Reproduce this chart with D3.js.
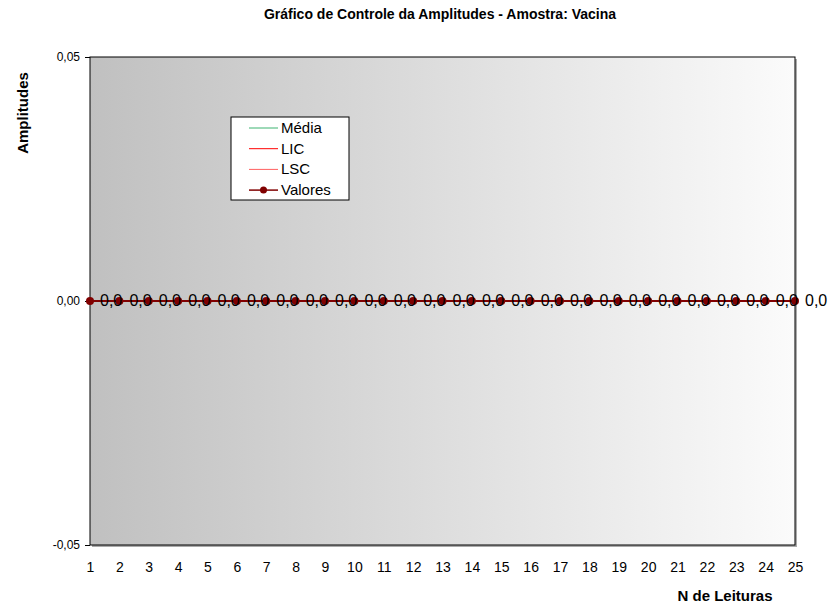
<!DOCTYPE html>
<html><head><meta charset="utf-8">
<script src="https://cdn.jsdelivr.net/npm/d3@7"></script>
<style>body{margin:0;background:#fff}svg{display:block;font-family:"Liberation Sans",Arial,sans-serif}</style>
</head><body><svg id="c" width="830" height="609"></svg>
<script>
const leituras = d3.range(1, 26);
const valores = [0,0,0,0,0,0,0,0,0,0,0,0,0,0,0,0,0,0,0,0,0,0,0,0,0];
const media = [0,0,0,0,0,0,0,0,0,0,0,0,0,0,0,0,0,0,0,0,0,0,0,0,0];
const lic = [0,0,0,0,0,0,0,0,0,0,0,0,0,0,0,0,0,0,0,0,0,0,0,0,0];
const lsc = [0,0,0,0,0,0,0,0,0,0,0,0,0,0,0,0,0,0,0,0,0,0,0,0,0];
const yTicks = [-0.05, 0, 0.05];
const legendItems = ["Média", "LIC", "LSC", "Valores"];

const svg = d3.select("#c");
const L = 90, R = 795, T = 57, B = 545;
const x = d3.scaleLinear().domain([1, 25]).range([L, R]);
const y = d3.scaleLinear().domain([-0.05, 0.05]).range([B, T]);
const fmt = v => d3.format(".2f")(v).replace(".", ",").replace("−", "-");

const defs = svg.append("defs");
const g = defs.append("linearGradient").attr("id", "bg");
g.append("stop").attr("offset", "0%").attr("stop-color", "#c0c0c0");
g.append("stop").attr("offset", "100%").attr("stop-color", "#fbfbfb");

svg.append("rect").attr("x", L + 2).attr("y", T + 2).attr("width", R - L).attr("height", B - T).attr("fill", "#aaa");
svg.append("rect").attr("x", L).attr("y", T).attr("width", R - L).attr("height", B - T).attr("fill", "url(#bg)").attr("stroke", "#000").attr("stroke-width", 1);

// title
svg.append("text").attr("x", 440).attr("y", 19).attr("text-anchor", "middle").attr("font-size", 14).attr("font-weight", "bold").text("Gráfico de Controle da Amplitudes - Amostra: Vacina");

// y axis
const ya = svg.append("g").attr("transform", `translate(${L},0)`).call(d3.axisLeft(y).tickValues(yTicks).tickFormat(fmt).tickSize(5).tickPadding(5));
ya.select(".domain").remove();
ya.selectAll("line").attr("stroke", "#000");
ya.selectAll("text").attr("font-size", 12).attr("fill", "#000").attr("font-family", "Liberation Sans, Arial, sans-serif");

// x axis
const xa = svg.append("g").attr("transform", `translate(0,${B})`).call(d3.axisBottom(x).tickValues(leituras).tickFormat(d3.format("d")).tickSize(0).tickPadding(17));
xa.select(".domain").remove();
xa.selectAll("text").attr("font-size", 14).attr("fill", "#000").attr("font-family", "Liberation Sans, Arial, sans-serif");

svg.append("text").attr("transform", "translate(28,113) rotate(-90)").attr("text-anchor", "middle").attr("font-size", 15).attr("font-weight", "bold").text("Amplitudes");
svg.append("text").attr("x", 725).attr("y", 601).attr("text-anchor", "middle").attr("font-size", 15).attr("font-weight", "bold").text("N de Leituras");

const line = d3.line().x((d, i) => x(leituras[i])).y(d => y(d));
svg.append("path").datum(media).attr("d", line).attr("fill", "none").attr("stroke", "#3cb371").attr("stroke-width", 1);
svg.append("path").datum(lic).attr("d", line).attr("fill", "none").attr("stroke", "#ff0000").attr("stroke-width", 1);
svg.append("path").datum(lsc).attr("d", line).attr("fill", "none").attr("stroke", "#ff6060").attr("stroke-width", 1);
svg.append("path").datum(valores).attr("d", line).attr("fill", "none").attr("stroke", "#800000").attr("stroke-width", 2);
svg.selectAll("circle.v").data(valores).enter().append("circle").attr("class", "v")
  .attr("cx", (d, i) => x(leituras[i])).attr("cy", d => y(d)).attr("r", 4).attr("fill", "#800000");
svg.selectAll("text.lbl").data(valores).enter().append("text").attr("class", "lbl")
  .attr("x", (d, i) => x(leituras[i]) + 10).attr("y", d => y(d) + 5).attr("font-size", 16).attr("fill", "#000")
  .text(d => d3.format(".1f")(d).replace(".", ","));

// legend
const lg = svg.append("g");
lg.append("rect").attr("x", 231).attr("y", 117).attr("width", 118).attr("height", 83).attr("fill", "#fff").attr("stroke", "#000");
const colors = ["#3cb371", "#ff0000", "#ff6060", "#800000"];
legendItems.forEach((name, i) => {
  const yy = 128 + i * 20.7;
  lg.append("line").attr("x1", 249).attr("x2", 278).attr("y1", yy).attr("y2", yy).attr("stroke", colors[i]).attr("stroke-width", i === 3 ? 1.5 : 1);
  if (i === 3) lg.append("circle").attr("cx", 263.5).attr("cy", yy).attr("r", 3.5).attr("fill", colors[i]);
  lg.append("text").attr("x", 281).attr("y", yy + 5).attr("font-size", 15).attr("fill", "#000").text(name);
});
</script></body></html>
